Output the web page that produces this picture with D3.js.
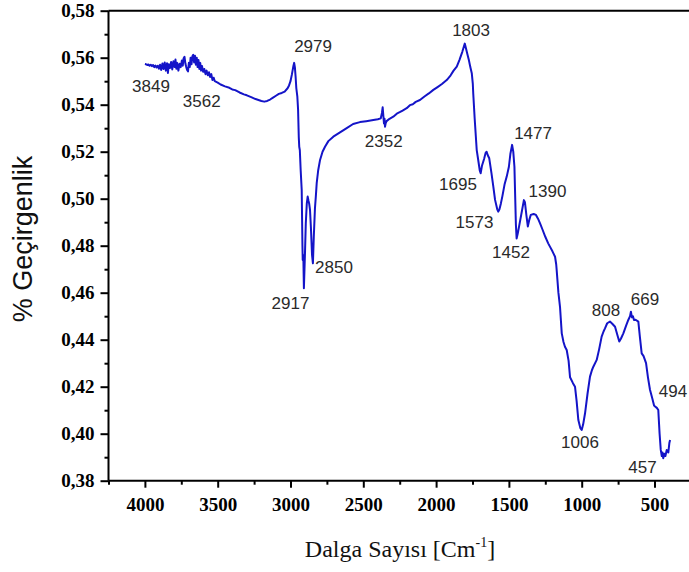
<!DOCTYPE html>
<html>
<head>
<meta charset="utf-8">
<script src="https://cdn.jsdelivr.net/npm/d3@7"></script>
<style>
  html, body { margin: 0; padding: 0; background: #fff; }
  svg { display: block; }
</style>
</head>
<body>
<svg id="chart" width="689" height="572"></svg>
<script>
// FTIR transmittance spectrum: wavenumber (cm-1) and transmittance
const wavenumbers = [
  4000, 3992, 3984, 3976, 3968, 3960, 3952, 3944, 3936, 3928,
  3920, 3912, 3904, 3896, 3888, 3880, 3872, 3864, 3856, 3848,
  3842, 3836, 3828, 3820, 3812, 3804, 3796, 3790, 3784, 3778,
  3770, 3762, 3754, 3746, 3740, 3734, 3728, 3722, 3716, 3710,
  3704, 3698, 3692, 3686, 3680, 3674, 3668, 3662, 3656, 3650,
  3644, 3638, 3632, 3626, 3620, 3614, 3608, 3600, 3592, 3584,
  3576, 3568, 3560, 3552, 3544, 3536, 3528, 3520,
  3500, 3480, 3450, 3420, 3400, 3380,
  3350, 3320, 3300, 3270, 3240, 3220, 3200, 3180, 3160, 3140, 3120, 3100, 3080, 3060, 3040, 3020, 3010, 3000, 2990, 2980,
  2975, 2970, 2965, 2960, 2953, 2948, 2943, 2940, 2936, 2930, 2923, 2918, 2916, 2912, 2908, 2904, 2900, 2895, 2888, 2882,
  2876, 2872, 2866, 2860, 2852, 2846, 2840, 2832, 2826, 2820, 2810, 2797, 2780, 2763, 2740, 2706, 2660, 2614, 2570, 2523,
  2480, 2431, 2400, 2380, 2372, 2367, 2362, 2358, 2354, 2351, 2346, 2340, 2320, 2294, 2270, 2250, 2230, 2202, 2180, 2160,
  2140, 2111, 2080, 2050, 2019, 1990, 1960, 1927, 1900, 1880, 1858, 1840, 1820, 1803, 1795, 1785, 1775, 1765, 1755, 1748,
  1745, 1735, 1721, 1712, 1700, 1694, 1685, 1670, 1660, 1653, 1645, 1635, 1620, 1607, 1595, 1580, 1573, 1565, 1555, 1545,
  1530, 1515, 1500, 1490, 1478, 1470, 1462, 1458, 1452, 1447, 1440, 1430, 1410, 1397, 1390, 1380, 1370, 1360, 1350, 1330,
  1314, 1300, 1286, 1270, 1250, 1230, 1218, 1200, 1183, 1175, 1172, 1160, 1149, 1137, 1125, 1115, 1103, 1090, 1080, 1060,
  1046, 1035, 1023, 1010, 1000, 990, 977, 960, 943, 930, 920, 897, 880, 863, 850, 840, 825, 806, 790, 771,
  755, 742, 730, 714, 695, 680, 668, 662, 655, 648, 641, 630, 611, 600, 588, 575, 558, 545, 531, 515,
  503, 496, 484, 474, 465, 457, 450, 445, 440, 432, 425, 416, 405, 398, 393
];
const transmittance = [
  0.5573, 0.5572, 0.5569, 0.5571, 0.5566, 0.5570, 0.5564, 0.5569, 0.5560, 0.5567,
  0.5558, 0.5566, 0.5553, 0.5570, 0.5548, 0.5575, 0.5552, 0.5580, 0.5545, 0.5576,
  0.5535, 0.5572, 0.5556, 0.5582, 0.5550, 0.5585, 0.5560, 0.5592, 0.5553, 0.5578,
  0.5545, 0.5574, 0.5560, 0.5588, 0.5566, 0.5598, 0.5604, 0.5575, 0.5560, 0.5548,
  0.5542, 0.5578, 0.5560, 0.5600, 0.5572, 0.5606, 0.5612, 0.5580, 0.5608, 0.5570,
  0.5600, 0.5560, 0.5590, 0.5552, 0.5578, 0.5545, 0.5565, 0.5540, 0.5552, 0.5530,
  0.5545, 0.5525, 0.5538, 0.5518, 0.5530, 0.5505, 0.5515, 0.5500,
  0.5494, 0.5486, 0.5478, 0.5472, 0.5465, 0.5462,
  0.5452, 0.5444, 0.5440, 0.5432, 0.5424, 0.5420, 0.5416, 0.5413, 0.5416, 0.5422, 0.5430, 0.5438, 0.5446, 0.5450, 0.5456, 0.5470, 0.5482, 0.5500, 0.5530, 0.5565,
  0.5578, 0.5560, 0.5520, 0.5470, 0.5434, 0.5380, 0.5260, 0.5221, 0.5207, 0.5120, 0.5037, 0.4800, 0.4739, 0.4760, 0.4619, 0.4700, 0.4780, 0.4895, 0.4980, 0.5009,
  0.4990, 0.4980, 0.4952, 0.4880, 0.4760, 0.4725, 0.4838, 0.4960, 0.5010, 0.5066, 0.5120, 0.5165, 0.5200, 0.5221, 0.5245, 0.5264, 0.5282, 0.5300, 0.5318, 0.5326,
  0.5330, 0.5335, 0.5338, 0.5342, 0.5365, 0.5389, 0.5350, 0.5320, 0.5340, 0.5306, 0.5322, 0.5330, 0.5340, 0.5349, 0.5362, 0.5368, 0.5375, 0.5385, 0.5398, 0.5402,
  0.5412, 0.5420, 0.5435, 0.5448, 0.5463, 0.5475, 0.5488, 0.5505, 0.5525, 0.5545, 0.5562, 0.5590, 0.5625, 0.5660, 0.5640, 0.5615, 0.5590, 0.5560, 0.5534, 0.5490,
  0.5449, 0.5340, 0.5207, 0.5170, 0.5120, 0.5108, 0.5140, 0.5170, 0.5195, 0.5200, 0.5185, 0.5172, 0.5110, 0.5051, 0.4995, 0.4955, 0.4945, 0.4955, 0.4980, 0.5010,
  0.5060, 0.5094, 0.5136, 0.5190, 0.5229, 0.5200, 0.5136, 0.5037, 0.4890, 0.4831, 0.4850, 0.4882, 0.4950, 0.4994, 0.4985, 0.4930, 0.4882, 0.4910, 0.4931, 0.4935,
  0.4931, 0.4915, 0.4895, 0.4870, 0.4838, 0.4810, 0.4796, 0.4775, 0.4753, 0.4720, 0.4697, 0.4600, 0.4540, 0.4427, 0.4390, 0.4370, 0.4356, 0.4310, 0.4240, 0.4215,
  0.4200, 0.4140, 0.4058, 0.4025, 0.4016, 0.4040, 0.4087, 0.4170, 0.4243, 0.4270, 0.4285, 0.4314, 0.4360, 0.4413, 0.4435, 0.4448, 0.4470, 0.4477, 0.4468, 0.4455,
  0.4420, 0.4392, 0.4405, 0.4427, 0.4460, 0.4484, 0.4500, 0.4519, 0.4495, 0.4500, 0.4484, 0.4485, 0.4477, 0.4410, 0.4342, 0.4330, 0.4300, 0.4240, 0.4187, 0.4150,
  0.4120, 0.4116, 0.4110, 0.4101, 0.4000, 0.3931, 0.3905, 0.3920, 0.3896, 0.3915, 0.3905, 0.3931, 0.3920, 0.3960, 0.3973
];

// Peak annotations: label text plus the wavenumber / transmittance where its text sits (baseline centre)
const peakLabels = ["3849", "3562", "2979", "2917", "2850", "2352", "1803", "1695", "1573", "1477", "1452", "1390", "1006", "808", "669", "494", "457"];
const peakLabelX = [3958, 3610, 2845, 3000, 2701, 2360, 1760, 1850, 1736, 1334, 1486, 1235, 1012, 833, 565, 373, 582];
const peakLabelY = [0.5454, 0.5392, 0.5626, 0.4531, 0.4684, 0.5221, 0.5692, 0.5037, 0.4877, 0.5254, 0.4748, 0.5009, 0.3938, 0.4501, 0.4548, 0.4158, 0.3833];

const yTicks = [0.38, 0.40, 0.42, 0.44, 0.46, 0.48, 0.50, 0.52, 0.54, 0.56, 0.58];
const xTicks = [4000, 3500, 3000, 2500, 2000, 1500, 1000, 500];

const svg = d3.select("#chart");
const plotLeft = 108.5, plotTop = 10.7, plotBottom = 480.7;
const pxPerUnit = 0.1456;

const x = d3.scaleLinear().domain([4250, 250]).range([plotLeft, plotLeft + 4000 * pxPerUnit]);
const y = d3.scaleLinear().domain([0.38, 0.58]).range([plotBottom, plotTop]);

const tickFont = "'Liberation Serif', 'Times New Roman', serif";
const sansFont = "'Liberation Sans', Arial, sans-serif";

// Top frame line
svg.append("line")
  .attr("x1", plotLeft).attr("x2", x(250))
  .attr("y1", plotTop).attr("y2", plotTop)
  .attr("stroke", "#000").attr("stroke-width", 2);

// X axis with major ticks
const xAxis = svg.append("g")
  .attr("transform", `translate(0,${plotBottom})`)
  .call(d3.axisBottom(x).tickValues(xTicks).tickSize(7).tickPadding(10).tickFormat(d3.format("d")));
xAxis.select(".domain").attr("stroke-width", 2).attr("d", `M${plotLeft},0H${x(250)}`);
xAxis.selectAll(".tick line").attr("stroke-width", 2);
xAxis.selectAll("text")
  .attr("font-family", tickFont).attr("font-weight", "bold").attr("font-size", 19).attr("fill", "#000");

// X minor ticks
svg.append("g")
  .attr("transform", `translate(0,${plotBottom})`)
  .call(d3.axisBottom(x).tickValues([4250, 3750, 3250, 2750, 2250, 1750, 1250, 750, 250]).tickSize(4).tickFormat(""))
  .call(g => g.select(".domain").remove())
  .call(g => g.selectAll(".tick line").attr("stroke-width", 2));

// Y axis with major ticks
const yAxis = svg.append("g")
  .attr("transform", `translate(${plotLeft},0)`)
  .call(d3.axisLeft(y).tickValues(yTicks).tickSize(8).tickPadding(6)
    .tickFormat(d => d3.format(".2f")(d).replace(".", ",")));
yAxis.select(".domain").attr("stroke-width", 2).attr("d", `M0,${plotBottom}V${plotTop}`);
yAxis.selectAll(".tick line").attr("stroke-width", 2);
yAxis.selectAll("text")
  .attr("font-family", tickFont).attr("font-weight", "bold").attr("font-size", 19).attr("fill", "#000");

// Y minor ticks
svg.append("g")
  .attr("transform", `translate(${plotLeft},0)`)
  .call(d3.axisLeft(y).tickValues(d3.range(0.39, 0.58, 0.02)).tickSize(4).tickFormat(""))
  .call(g => g.select(".domain").remove())
  .call(g => g.selectAll(".tick line").attr("stroke-width", 2));

// Spectrum line
const points = wavenumbers.map((w, i) => [w, transmittance[i]]);
svg.append("path")
  .datum(points)
  .attr("fill", "none")
  .attr("stroke", "#1414c8")
  .attr("stroke-width", 2)
  .attr("stroke-linejoin", "round")
  .attr("d", d3.line().x(d => x(d[0])).y(d => y(d[1])));

// Peak labels
svg.append("g").selectAll("text")
  .data(peakLabels)
  .join("text")
  .attr("x", (d, i) => x(peakLabelX[i]))
  .attr("y", (d, i) => y(peakLabelY[i]))
  .attr("text-anchor", "middle")
  .attr("font-family", sansFont)
  .attr("font-size", 17)
  .attr("fill", "#2a2a2a")
  .text(d => d);

// Axis titles
svg.append("text")
  .attr("transform", `translate(32,239) rotate(-90)`)
  .attr("text-anchor", "middle")
  .attr("font-family", sansFont)
  .attr("font-size", 27)
  .attr("fill", "#111")
  .text("% Geçirgenlik");

const xTitle = svg.append("text")
  .attr("x", 400).attr("y", 557)
  .attr("text-anchor", "middle")
  .attr("font-family", tickFont)
  .attr("font-size", 24)
  .attr("fill", "#111");
xTitle.append("tspan").text("Dalga Sayısı [Cm");
xTitle.append("tspan").attr("font-size", 14).attr("dy", -10).text("-1");
xTitle.append("tspan").attr("dy", 10).text("]");
</script>
</body>
</html>
